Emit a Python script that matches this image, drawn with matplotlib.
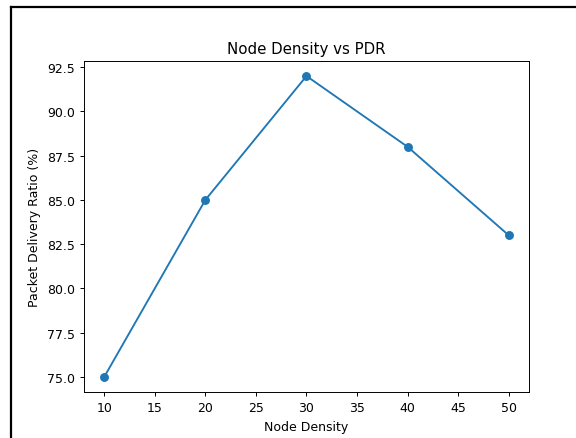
import matplotlib
matplotlib.use("Agg")
import matplotlib.pyplot as plt
from matplotlib.lines import Line2D

# データ
node_density = [10, 20, 30, 40, 50]
pdr = [75, 85, 92, 88, 83]

fig = plt.figure(figsize=(5.76, 4.39), dpi=100)
ax = fig.add_axes([0.1458, 0.1048, 0.7726, 0.754])

ax.plot(node_density, pdr, marker='o', color='#1f77b4', linewidth=1.35, markersize=5.4)
ax.set_title('Node Density vs PDR', fontsize=10.8)
ax.set_xlabel('Node Density', fontsize=9)
ax.set_ylabel('Packet Delivery Ratio (%)', fontsize=9)
ax.tick_params(labelsize=9, width=0.7, length=3.2)
for s in ax.spines.values():
    s.set_linewidth(0.7)

# スクリーンショットの枠線（上と左）
fig.add_artist(Line2D([11 / 576, 1], [1 - 8 / 439, 1 - 8 / 439],
                      transform=fig.transFigure, color='black', linewidth=1.6))
fig.add_artist(Line2D([11 / 576, 11 / 576], [0, 1 - 8 / 439],
                      transform=fig.transFigure, color='black', linewidth=1.6))

plt.savefig('out.png', dpi=100)
